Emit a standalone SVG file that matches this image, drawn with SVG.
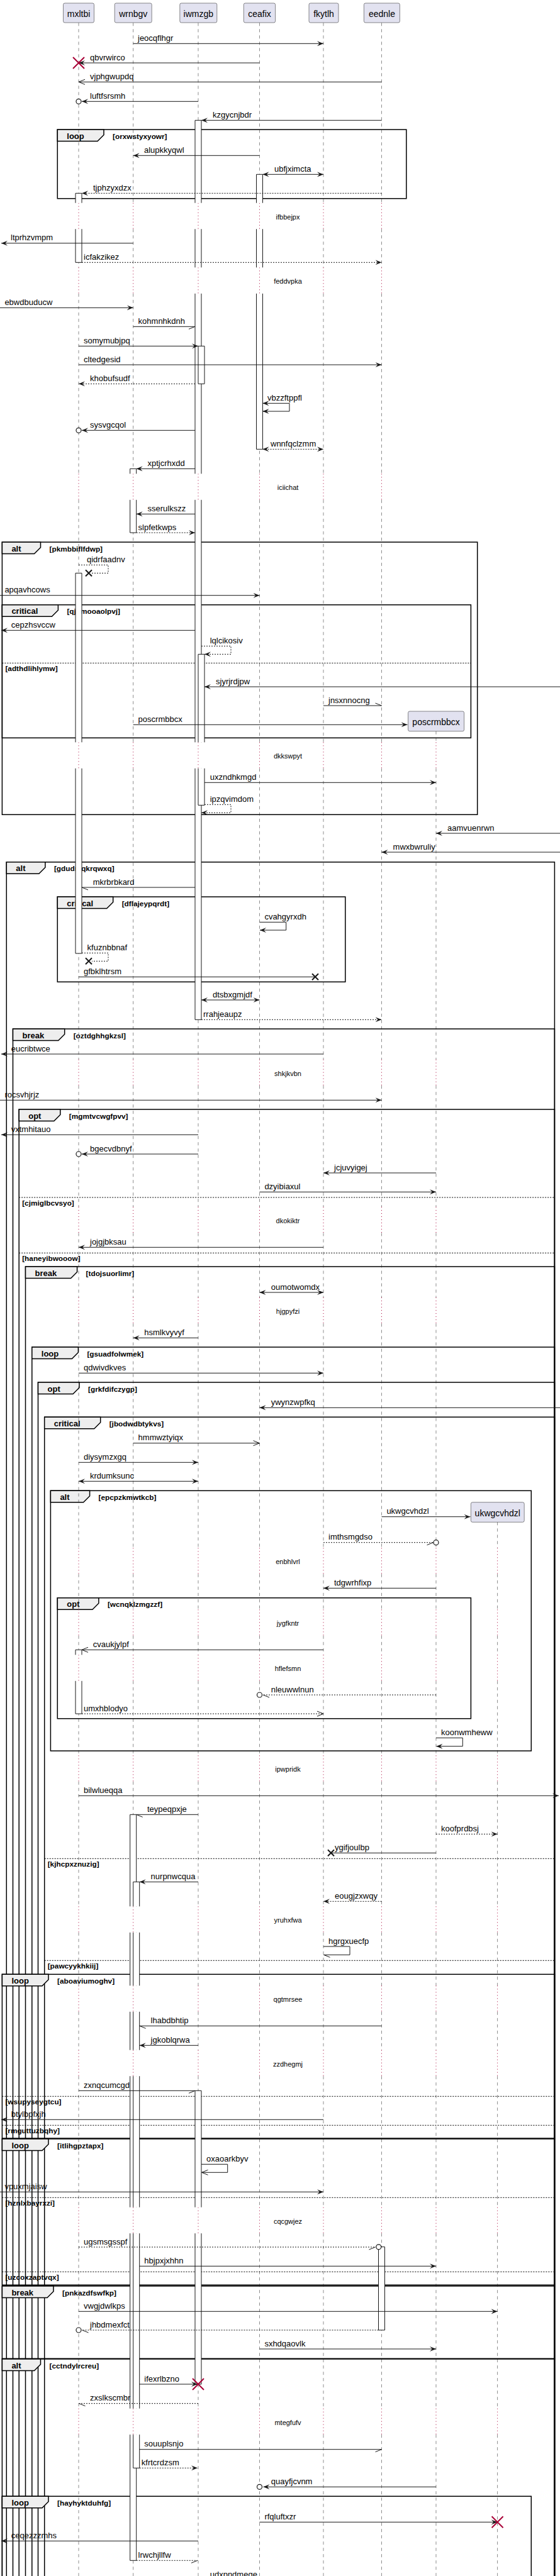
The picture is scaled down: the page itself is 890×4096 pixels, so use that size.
<svg xmlns="http://www.w3.org/2000/svg" width="890" height="4096" viewBox="0 0 890 4096">
<style>
text{font-family:"Liberation Sans",Arial,sans-serif;fill:#000}
.t{font-size:13px}
.pt{font-size:14px}
.dt{font-size:11px}
.fl{font-size:13px;font-weight:bold}
.g{font-size:11.8px;font-weight:bold}
.ll{fill:none;stroke:#181818;stroke-width:0.5;stroke-dasharray:5,5}
.lld{fill:none;stroke:#A80036;stroke-width:1;stroke-dasharray:1,4}
.act{fill:#fff;stroke:none}
.actl{fill:none;stroke:#181818;stroke-width:1}
.m{fill:none;stroke:#181818;stroke-width:1}
.md{fill:none;stroke:#181818;stroke-width:1;stroke-dasharray:2,2}
.fr{fill:none;stroke:#000;stroke-width:1.5}
.tab{fill:#EEEEEE;stroke:#000;stroke-width:1.5}
.el{fill:none;stroke:#000;stroke-width:1;stroke-dasharray:2,2}
.pbox{fill:#E2E2F0;stroke:#181818;stroke-width:0.5}
.cir{fill:#fff;stroke:#181818;stroke-width:1.2}
.xl{fill:none;stroke:#181818;stroke-width:2}
.xd{fill:none;stroke:#A80036;stroke-width:2}
</style>
<defs>
<marker id="af" viewBox="0 0 10 10" refX="10" refY="5" markerWidth="10" markerHeight="10" markerUnits="userSpaceOnUse" orient="auto-start-reverse"><path d="M0,1L10,5L0,9L4,5Z" fill="#181818"/></marker>
<marker id="ao" viewBox="-1 -1 12 12" refX="10" refY="5" markerWidth="12" markerHeight="12" markerUnits="userSpaceOnUse" orient="auto" overflow="visible"><path d="M0,1L10,5L0,9" fill="none" stroke="#181818" stroke-width="1"/></marker>
<marker id="hl" viewBox="-1 -1 12 12" refX="10" refY="5" markerWidth="12" markerHeight="12" markerUnits="userSpaceOnUse" orient="auto" overflow="visible"><path d="M10,5L0,9" fill="none" stroke="#181818" stroke-width="1"/></marker>
<marker id="hu" viewBox="-1 -1 12 12" refX="10" refY="5" markerWidth="12" markerHeight="12" markerUnits="userSpaceOnUse" orient="auto" overflow="visible"><path d="M10,5L0,1" fill="none" stroke="#181818" stroke-width="1"/></marker>
<path id="lldash" d="M0,36.3V322.7M0,364.2V425.3M0,466.8V753.3M0,794.8V1180.3M0,1221.8V1684.7M0,1726.2V1919M0,1960.5V2063M0,2104.5V2461.3M0,2502.8V2559.3M0,2600.8V2631.3M0,2672.8V2791.3M0,2832.8V3031.3M0,3072.8V3157.3M0,3198.8V3259.7M0,3301.2V3509.7M0,3551.2V3829.7M0,3871.2V4096"/>
<path id="lldot" d="M0,322.7V364.2M0,425.3V466.8M0,753.3V794.8M0,1180.3V1221.8M0,1684.7V1726.2M0,1919V1960.5M0,2063V2104.5M0,2461.3V2502.8M0,2559.3V2600.8M0,2631.3V2672.8M0,2791.3V2832.8M0,3031.3V3072.8M0,3157.3V3198.8M0,3259.7V3301.2M0,3509.7V3551.2M0,3829.7V3871.2"/>
</defs>
<rect x="0" y="0" width="890" height="4096" fill="#fff"/>

<g id="frames">
<rect class="fr" x="91.3" y="206" width="554.5" height="109.7"/>
<polygon class="tab" points="91.3,206 165,206 165,214.5 155,224.5 91.3,224.5"/>
<text class="fl" x="106.3" y="220.5">loop</text><text class="g" x="179" y="220.7">[orxwstyxyowr]</text>

<rect class="fr" x="3.4" y="862" width="755.3" height="433.3"/>
<polygon class="tab" points="3.4,862 64.5,862 64.5,870.5 54.5,880.5 3.4,880.5"/>
<text class="fl" x="18.4" y="876.5">alt</text><text class="g" x="78.5" y="876.7">[pkmbbiflfdwp]</text>

<rect class="fr" x="3.4" y="961.7" width="745" height="211.6"/>
<polygon class="tab" points="3.4,961.7 92.4,961.7 92.4,970.2 82.4,980.2 3.4,980.2"/>
<text class="fl" x="18.4" y="976.2">critical</text><text class="g" x="106.4" y="976.4">[qjumooaolpvj]</text>
<path class="el" d="M3.4,1054.3H748.4"/><text class="g" x="8.4" y="1066.8">[adthdlihlymw]</text>

<path class="fr" d="M10.3,4100V1370.7H881.4V4100"/>
<polygon class="tab" points="10.3,1370.7 71.9,1370.7 71.9,1379.2 61.9,1389.2 10.3,1389.2"/>
<text class="fl" x="25.3" y="1385.2">alt</text><text class="g" x="85.9" y="1385.4">[gdudmqkrqwxq]</text>

<rect class="fr" x="91.3" y="1426" width="457.5" height="135.3"/>
<polygon class="tab" points="91.3,1426 179.7,1426 179.7,1434.5 169.7,1444.5 91.3,1444.5"/>
<text class="fl" x="106.3" y="1440.5">critical</text><text class="g" x="193.7" y="1440.7">[dflajeypqrdt]</text>

<path class="fr" d="M20.5,4100V1636H881.4V4100"/>
<polygon class="tab" points="20.5,1636 102.7,1636 102.7,1644.5 92.7,1654.5 20.5,1654.5"/>
<text class="fl" x="35.5" y="1650.5">break</text><text class="g" x="116.7" y="1650.7">[oztdghhgkzsl]</text>

<path class="fr" d="M30.2,4100V1764H881.4V4100"/>
<polygon class="tab" points="30.2,1764 95.8,1764 95.8,1772.5 85.8,1782.5 30.2,1782.5"/>
<text class="fl" x="45.2" y="1778.5">opt</text><text class="g" x="109.8" y="1778.7">[mgmtvcwgfpvv]</text>
<path class="el" d="M30.2,1904H881.4"/><text class="g" x="35.2" y="1916.5">[cjmiglbcvsyo]</text>
<path class="el" d="M30.2,1992.3H881.4"/><text class="g" x="35.2" y="2004.8">[haneyibwooow]</text>

<path class="fr" d="M40.5,4100V2014H881.4V4100"/>
<polygon class="tab" points="40.5,2014 122.6,2014 122.6,2022.5 112.6,2032.5 40.5,2032.5"/>
<text class="fl" x="55.5" y="2028.5">break</text><text class="g" x="136.6" y="2028.7">[tdojsuorlimr]</text>

<path class="fr" d="M50.8,4100V2142H881.4V4100"/>
<polygon class="tab" points="50.8,2142 124.4,2142 124.4,2150.5 114.4,2160.5 50.8,2160.5"/>
<text class="fl" x="65.8" y="2156.5">loop</text><text class="g" x="138.4" y="2156.7">[gsuadfolwmek]</text>

<path class="fr" d="M60.5,4100V2198H881.4V4100"/>
<polygon class="tab" points="60.5,2198 126,2198 126,2206.5 116,2216.5 60.5,2216.5"/>
<text class="fl" x="75.5" y="2212.5">opt</text><text class="g" x="140" y="2212.7">[grkfdifczygp]</text>

<path class="fr" d="M70.7,4100V2253.3H881.4V4100"/>
<polygon class="tab" points="70.7,2253.3 159.7,2253.3 159.7,2261.8 149.7,2271.8 70.7,2271.8"/>
<text class="fl" x="85.7" y="2267.8">critical</text><text class="g" x="173.7" y="2268">[jbodwdbtykvs]</text>
<path class="el" d="M70.7,2955.3H881.4"/><text class="g" x="75.7" y="2967.8">[kjhcpxznuzig]</text>
<path class="el" d="M70.7,3117.3H881.4"/><text class="g" x="75.7" y="3129.8">[pawcyykhkiij]</text>

<rect class="fr" x="80.4" y="2370.3" width="763.9" height="413.7"/>
<polygon class="tab" points="80.4,2370.3 142.6,2370.3 142.6,2378.8 132.6,2388.8 80.4,2388.8"/>
<text class="fl" x="95.4" y="2384.8">alt</text><text class="g" x="156.6" y="2385">[epcpzkmwtkcb]</text>

<rect class="fr" x="91.3" y="2540.7" width="657.1" height="192"/>
<polygon class="tab" points="91.3,2540.7 156.9,2540.7 156.9,2549.2 146.9,2559.2 91.3,2559.2"/>
<text class="fl" x="106.3" y="2555.2">opt</text><text class="g" x="170.9" y="2555.4">[wcnqklzmgzzf]</text>

<rect class="fr" x="3.4" y="3139.3" width="878" height="260.7"/>
<polygon class="tab" points="3.4,3139.3 77,3139.3 77,3147.8 67,3157.8 3.4,3157.8"/>
<text class="fl" x="18.4" y="3153.8">loop</text><text class="g" x="91" y="3154">[aboaviumoghv]</text>
<path class="el" d="M3.4,3333.3H881.4"/><text class="g" x="8.4" y="3345.8">[wsupyseygtcu]</text>
<path class="el" d="M3.4,3379.3H881.4"/><text class="g" x="8.4" y="3391.8">[rmguttuzbqhy]</text>

<rect class="fr" x="3.4" y="3401" width="878" height="232.3"/>
<polygon class="tab" points="3.4,3401 77,3401 77,3409.5 67,3419.5 3.4,3419.5"/>
<text class="fl" x="18.4" y="3415.5">loop</text><text class="g" x="91" y="3415.7">[itlihgpztapx]</text>
<path class="el" d="M3.4,3494.3H881.4"/><text class="g" x="8.4" y="3506.8">[hznlxbayrxzi]</text>
<path class="el" d="M3.4,3612.3H881.4"/><text class="g" x="8.4" y="3624.8">[uzcoxzaptvqx]</text>

<rect class="fr" x="3.4" y="3635" width="878" height="115.3"/>
<polygon class="tab" points="3.4,3635 85,3635 85,3643.5 75,3653.5 3.4,3653.5"/>
<text class="fl" x="18.4" y="3649.5">break</text><text class="g" x="99" y="3649.7">[pnkazdfswfkp]</text>

<path class="fr" d="M3.4,4100V3751H881.4V4100"/>
<polygon class="tab" points="3.4,3751 64.5,3751 64.5,3759.5 54.5,3769.5 3.4,3769.5"/>
<text class="fl" x="18.4" y="3765.5">alt</text><text class="g" x="78.5" y="3765.7">[cctndylrcreu]</text>

<path class="fr" d="M3.4,4100V3969.3H844.3V4100"/>
<polygon class="tab" points="3.4,3969.3 77,3969.3 77,3977.8 67,3987.8 3.4,3987.8"/>
<text class="fl" x="18.4" y="3983.8">loop</text><text class="g" x="91" y="3984">[hayhyktduhfg]</text>
</g>

<g id="lifelines">
<use href="#lldash" class="ll" x="125"/>
<use href="#lldash" class="ll" x="211.7"/>
<use href="#lldash" class="ll" x="315"/>
<use href="#lldash" class="ll" x="412.5"/>
<use href="#lldash" class="ll" x="514"/>
<use href="#lldash" class="ll" x="606.5"/>
<use href="#lldot" class="lld" x="125"/>
<use href="#lldot" class="lld" x="211.7"/>
<use href="#lldot" class="lld" x="315"/>
<use href="#lldot" class="lld" x="412.5"/>
<use href="#lldot" class="lld" x="514"/>
<use href="#lldot" class="lld" x="606.5"/>
<path class="ll" d="M693,1162.7V1180.3M693,1221.8V1684.7M693,1726.2V1919M693,1960.5V2063M693,2104.5V2461.3M693,2502.8V2559.3M693,2600.8V2631.3M693,2672.8V2791.3M693,2832.8V3031.3M693,3072.8V3157.3M693,3198.8V3259.7M693,3301.2V3509.7M693,3551.2V3829.7M693,3871.2V4096"/>
<path class="lld" d="M693,1180.3V1221.8M693,1684.7V1726.2M693,1919V1960.5M693,2063V2104.5M693,2461.3V2502.8M693,2559.3V2600.8M693,2631.3V2672.8M693,2791.3V2832.8M693,3031.3V3072.8M693,3157.3V3198.8M693,3259.7V3301.2M693,3509.7V3551.2M693,3829.7V3871.2"/>
<path class="ll" d="M790.6,2420.3V2461.3M790.6,2502.8V2559.3M790.6,2600.8V2631.3M790.6,2672.8V2791.3M790.6,2832.8V3031.3M790.6,3072.8V3157.3M790.6,3198.8V3259.7M790.6,3301.2V3509.7M790.6,3551.2V3829.7M790.6,3871.2V4096"/>
<path class="lld" d="M790.6,2461.3V2502.8M790.6,2559.3V2600.8M790.6,2631.3V2672.8M790.6,2791.3V2832.8M790.6,3031.3V3072.8M790.6,3157.3V3198.8M790.6,3259.7V3301.2M790.6,3509.7V3551.2M790.6,3829.7V3871.2"/>
</g>

<g id="delays">
<text class="dt" x="457.5" y="348.7" text-anchor="middle">ifbbejpx</text>
<text class="dt" x="457.5" y="451.3" text-anchor="middle">feddvpka</text>
<text class="dt" x="457.5" y="779.3" text-anchor="middle">iciichat</text>
<text class="dt" x="457.5" y="1206.3" text-anchor="middle">dkkswpyt</text>
<text class="dt" x="457.5" y="1710.7" text-anchor="middle">shkjkvbn</text>
<text class="dt" x="457.5" y="1945" text-anchor="middle">dkokiktr</text>
<text class="dt" x="457.5" y="2089" text-anchor="middle">hjgpyfzi</text>
<text class="dt" x="457.5" y="2487.3" text-anchor="middle">enbhlvrl</text>
<text class="dt" x="457.5" y="2585.3" text-anchor="middle">jygfkntr</text>
<text class="dt" x="457.5" y="2657.3" text-anchor="middle">hflefsmn</text>
<text class="dt" x="457.5" y="2817.3" text-anchor="middle">ipwpridk</text>
<text class="dt" x="457.5" y="3057.3" text-anchor="middle">yruhxfwa</text>
<text class="dt" x="457.5" y="3183.3" text-anchor="middle">qgtmrsee</text>
<text class="dt" x="457.5" y="3285.7" text-anchor="middle">zzdhegmj</text>
<text class="dt" x="457.5" y="3535.7" text-anchor="middle">cqcgwjez</text>
<text class="dt" x="457.5" y="3855.7" text-anchor="middle">mtegfufv</text>
</g>

<g id="activations">
<rect class="act" x="120" y="307.3" width="10" height="15.4"/><rect class="act" x="120" y="364.2" width="10" height="53.1"/>
<path class="actl" d="M120,322.7V307.3H130V322.7M120,364.2V417.3H130V364.2"/>
<rect class="act" x="120" y="911.3" width="10" height="269"/><rect class="act" x="120" y="1221.8" width="10" height="294.2"/>
<path class="actl" d="M120,1180.3V911.3H130V1180.3M120,1221.8V1516H130V1221.8"/>
<rect class="act" x="120" y="2623.3" width="10" height="8"/><rect class="act" x="120" y="2672.8" width="10" height="52.2"/>
<path class="actl" d="M120,2631.3V2623.3H130V2631.3M120,2672.8V2725H130V2672.8"/>
<rect class="act" x="206.7" y="745.3" width="10" height="8"/><rect class="act" x="206.7" y="794.8" width="10" height="52.2"/>
<path class="actl" d="M206.7,753.3V745.3H216.7V753.3M206.7,794.8V847H216.7V794.8"/>
<rect class="act" x="206.7" y="2885.3" width="10" height="146"/><rect class="act" x="206.7" y="3072.8" width="10" height="84.5"/><rect class="act" x="206.7" y="3198.8" width="10" height="60.9"/><rect class="act" x="206.7" y="3301.2" width="10" height="208.5"/><rect class="act" x="206.7" y="3551.2" width="10" height="278.5"/><rect class="act" x="206.7" y="3871.2" width="10" height="200.1"/>
<path class="actl" d="M206.7,3031.3V2885.3H216.7V3031.3M206.7,3072.8V3157.3M216.7,3072.8V3157.3M206.7,3198.8V3259.7M216.7,3198.8V3259.7M206.7,3301.2V3509.7M216.7,3301.2V3509.7M206.7,3551.2V3829.7M216.7,3551.2V3829.7M206.7,3871.2V4071.3H216.7V3871.2"/>
<rect class="act" x="211.7" y="2992.3" width="10" height="39"/><rect class="act" x="211.7" y="3072.8" width="10" height="84.5"/><rect class="act" x="211.7" y="3198.8" width="10" height="60.9"/><rect class="act" x="211.7" y="3301.2" width="10" height="208.5"/><rect class="act" x="211.7" y="3551.2" width="10" height="278.5"/><rect class="act" x="211.7" y="3871.2" width="10" height="53.1"/>
<path class="actl" d="M211.7,3031.3V2992.3H221.7V3031.3M211.7,3072.8V3157.3M221.7,3072.8V3157.3M211.7,3198.8V3259.7M221.7,3198.8V3259.7M211.7,3301.2V3509.7M221.7,3301.2V3509.7M211.7,3551.2V3829.7M221.7,3551.2V3829.7M211.7,3871.2V3924.3H221.7V3871.2"/>
<rect class="act" x="310" y="191.3" width="10" height="131.4"/><rect class="act" x="310" y="364.2" width="10" height="61.1"/><rect class="act" x="310" y="466.8" width="10" height="286.5"/><rect class="act" x="310" y="794.8" width="10" height="385.5"/><rect class="act" x="310" y="1221.8" width="10" height="399.5"/>
<path class="actl" d="M310,322.7V191.3H320V322.7M310,364.2V425.3M320,364.2V425.3M310,466.8V753.3M320,466.8V753.3M310,794.8V1180.3M320,794.8V1180.3M310,1221.8V1621.3H320V1221.8"/>
<rect class="act" x="315" y="550.3" width="10" height="60"/>
<path class="actl" d="M315,550.3H325V610.3H315Z"/>
<rect class="act" x="315" y="1040.3" width="10" height="140"/><rect class="act" x="315" y="1221.8" width="10" height="58.5"/>
<path class="actl" d="M315,1180.3V1040.3H325V1180.3M315,1221.8V1280.3H325V1221.8"/>
<rect class="act" x="310" y="3324.3" width="10" height="185.4"/><rect class="act" x="310" y="3551.2" width="10" height="239.8"/>
<path class="actl" d="M310,3509.7V3324.3H320V3509.7M310,3551.2V3791H320V3551.2"/>
<rect class="act" x="407.5" y="277.3" width="10" height="45.4"/><rect class="act" x="407.5" y="364.2" width="10" height="61.1"/><rect class="act" x="407.5" y="466.8" width="10" height="247.5"/>
<path class="actl" d="M407.5,322.7V277.3H417.5V322.7M407.5,364.2V425.3M417.5,364.2V425.3M407.5,466.8V714.3H417.5V466.8"/>
<rect class="act" x="601.5" y="3572.7" width="10" height="132.3"/>
<path class="actl" d="M601.5,3572.7H611.5V3705H601.5Z"/>
</g>

<g id="connectors">
<path class="m" d="M211.7,69.3H514" marker-end="url(#af)"/><text class="t" x="219" y="64.8">jeocqflhgr</text>
<path class="m" d="M412.5,100H125" marker-end="url(#af)"/><path class="xd" d="M116,91L134,109M134,91L116,109"/><text class="t" x="143" y="95.5">qbvrwirco</text>
<path class="m" d="M606.5,130.3H125" marker-end="url(#ao)"/><text class="t" x="143" y="125.8">vjphgwupdq</text>
<path class="m" d="M315,161.3H130" marker-end="url(#af)"/><circle class="cir" cx="125" cy="161.3" r="4"/><text class="t" x="143" y="156.8">luftfsrsmh</text>
<path class="m" d="M606.5,191.3H320" marker-end="url(#af)"/><text class="t" x="338" y="186.8">kzgycnjbdr</text>
<path class="m" d="M412.5,247.3H211.7" marker-end="url(#af)"/><text class="t" x="229" y="242.8">alupkkyqwl</text>
<path class="m" d="M417.5,277.3H514" marker-start="url(#af)" marker-end="url(#af)"/><text class="t" x="436" y="272.8">ubfjximcta</text>
<path class="md" d="M606.5,307.3H130" marker-end="url(#af)"/><text class="t" x="148" y="302.8">tjphzyxdzx</text>
<path class="m" d="M211.7,386.7H2" marker-end="url(#af)"/><text class="t" x="17" y="382.2">ltprhzvmpm</text>
<path class="md" d="M130,417.3H606.5" marker-end="url(#af)"/><text class="t" x="133" y="412.8">icfakzikez</text>
<path class="m" d="M0,489.3H211.7" marker-end="url(#af)"/><text class="t" x="7.4" y="484.8">ebwdbuducw</text>
<path class="m" d="M211.7,519.3H310" marker-end="url(#hl)"/><text class="t" x="219.6" y="514.8">kohmnhkdnh</text>
<path class="m" d="M125,550.3H315" marker-end="url(#af)"/><text class="t" x="133" y="545.8">somymubjpq</text>
<path class="m" d="M125,580H606.5" marker-end="url(#af)"/><text class="t" x="133" y="575.5">cltedgesid</text>
<path class="md" d="M310,610.3H125" marker-end="url(#af)"/><text class="t" x="143" y="605.8">khobufsudf</text>
<path class="m" d="M417.5,641.3H460V654H417.5" marker-start="url(#af)" marker-end="url(#af)"/><text class="t" x="425" y="636.8">vbzzftppfl</text>
<path class="m" d="M310,684.3H130" marker-end="url(#af)"/><circle class="cir" cx="125" cy="684.3" r="4"/><text class="t" x="143" y="679.8">sysvgcqol</text>
<path class="md" d="M417.5,714.3H514" marker-start="url(#af)" marker-end="url(#af)"/><text class="t" x="430" y="709.8">wnnfqclzmm</text>
<path class="m" d="M310,745.3H216.7" marker-end="url(#af)"/><text class="t" x="234.5" y="740.8">xptjcrhxdd</text>
<path class="m" d="M310,817.3H216.7" marker-end="url(#af)"/><text class="t" x="234.5" y="812.8">sserulkszz</text>
<path class="md" d="M216.7,847H310" marker-end="url(#af)"/><text class="t" x="219.6" y="842.5">slpfetkwps</text>
<path class="md" d="M125,898.3H172V911.3H146"/><path class="xl" d="M136,906.3L146,916.3M146,906.3L136,916.3"/><text class="t" x="138" y="893.8">qidrfaadnv</text>
<path class="m" d="M0,946.7H412.5" marker-end="url(#af)"/><text class="t" x="7.4" y="942.2">apqavhcows</text>
<path class="m" d="M310,1002.3H2" marker-end="url(#af)"/><text class="t" x="17.7" y="997.8">cepzhsvccw</text>
<path class="md" d="M320,1027.3H367V1040.3H325" marker-end="url(#af)"/><text class="t" x="333.7" y="1022.8">lqlcikosiv</text>
<path class="m" d="M890,1092H325" marker-end="url(#af)"/><text class="t" x="343" y="1087.5">sjyrjrdjpw</text>
<path class="m" d="M514,1122H606.5" marker-end="url(#hu)"/><text class="t" x="522" y="1117.5">jnsxnnocng</text>
<path class="m" d="M211.7,1152.3H647.5" marker-end="url(#af)"/><text class="t" x="219.6" y="1147.8">poscrmbbcx</text>
<path class="m" d="M325,1244.3H693" marker-end="url(#af)"/><text class="t" x="333.7" y="1239.8">uxzndhkmgd</text>
<path class="md" d="M325,1279.3H367V1292.3H320" marker-end="url(#af)"/><text class="t" x="333.7" y="1274.8">ipzqvimdom</text>
<path class="m" d="M890,1325H693" marker-end="url(#af)"/><text class="t" x="711" y="1320.5">aamvuenrwn</text>
<path class="m" d="M890,1355H606.5" marker-end="url(#af)"/><text class="t" x="624.6" y="1350.5">mwxbwruliy</text>
<path class="m" d="M310,1411H130" marker-end="url(#hu)"/><text class="t" x="147.7" y="1406.5">mkrbrbkard</text>
<path class="m" d="M412.5,1466.3H454.7V1479H413" marker-end="url(#af)"/><text class="t" x="420.4" y="1461.8">cvahgyrxdh</text>
<path class="md" d="M130,1515.3H172V1528.3H146"/><path class="xl" d="M136,1523.3L146,1533.3M146,1523.3L136,1533.3"/><text class="t" x="138.6" y="1510.8">kfuznbbnaf</text>
<path class="m" d="M125,1553.3H501"/><path class="xl" d="M496,1548.3L506,1558.3M506,1548.3L496,1558.3"/><text class="t" x="133" y="1548.8">gfbklhtrsm</text>
<path class="m" d="M320,1590H412.5" marker-start="url(#af)" marker-end="url(#af)"/><text class="t" x="338" y="1585.5">dtsbxgmjdf</text>
<path class="md" d="M320,1621.3H606.5" marker-end="url(#af)"/><text class="t" x="323" y="1616.8">rrahjeaupz</text>
<path class="m" d="M514,1676H2" marker-end="url(#af)"/><text class="t" x="17.7" y="1671.5">eucribtwce</text>
<path class="m" d="M0,1749.3H606.5" marker-end="url(#af)"/><text class="t" x="7.4" y="1744.8">rocsvhjrjz</text>
<path class="m" d="M315,1804.3H2" marker-end="url(#af)"/><text class="t" x="17.7" y="1799.8">vxtmhitauo</text>
<path class="m" d="M315,1835H130" marker-end="url(#af)"/><circle class="cir" cx="125" cy="1835" r="4"/><text class="t" x="143" y="1830.5">bgecvdbnyf</text>
<path class="m" d="M693,1865H514" marker-end="url(#af)"/><text class="t" x="531" y="1860.5">jcjuvyigej</text>
<path class="m" d="M412.5,1895.3H693" marker-end="url(#af)"/><text class="t" x="420.4" y="1890.8">dzyibiaxul</text>
<path class="m" d="M514,1983.3H125" marker-end="url(#af)"/><text class="t" x="143" y="1978.8">jojgjbksau</text>
<path class="m" d="M412.5,2055H514" marker-start="url(#af)" marker-end="url(#af)"/><text class="t" x="430.7" y="2050.5">oumotwomdx</text>
<path class="m" d="M315,2127.3H211.7" marker-end="url(#af)"/><text class="t" x="229.3" y="2122.8">hsmlkvyvyf</text>
<path class="m" d="M125,2183.3H514" marker-end="url(#af)"/><text class="t" x="133" y="2178.8">qdwivdkves</text>
<path class="m" d="M890,2238.3H412.5" marker-end="url(#af)"/><text class="t" x="430.7" y="2233.8">ywynzwpfkq</text>
<path class="m" d="M211.7,2294.7H412.5" marker-end="url(#ao)"/><text class="t" x="219.6" y="2290.2">hmmwztyiqx</text>
<path class="m" d="M125,2325.3H315" marker-end="url(#af)"/><text class="t" x="133" y="2320.8">diysymzxgq</text>
<path class="m" d="M125,2355.3H315" marker-start="url(#af)" marker-end="url(#af)"/><text class="t" x="143" y="2350.8">krdumksunc</text>
<path class="m" d="M606.5,2411.7H747.5" marker-end="url(#af)"/><text class="t" x="614.4" y="2407.2">ukwgcvhdzl</text>
<path class="md" d="M514,2452.7H688.5" marker-end="url(#hl)"/><circle class="cir" cx="693" cy="2452.7" r="4"/><text class="t" x="522" y="2448.2">imthsmgdso</text>
<path class="m" d="M693,2525.3H514" marker-end="url(#af)"/><text class="t" x="531" y="2520.8">tdgwrhfixp</text>
<path class="m" d="M514,2623.3H130" marker-end="url(#ao)"/><text class="t" x="147.7" y="2618.8">cvaukjylpf</text>
<path class="md" d="M693,2695H418" marker-end="url(#hu)"/><circle class="cir" cx="412.5" cy="2695" r="4"/><text class="t" x="430.7" y="2690.5">nleuwwlnun</text>
<path class="md" d="M130,2725H514" marker-end="url(#ao)"/><text class="t" x="133" y="2720.5">umxhblodyo</text>
<path class="m" d="M693,2763.3H735.3V2776.7H693.5" marker-end="url(#af)"/><text class="t" x="701" y="2758.8">koonwmheww</text>
<path class="m" d="M125,2855.3H888" marker-end="url(#af)"/><text class="t" x="133" y="2850.8">bilwlueqqa</text>
<path class="m" d="M315,2885.3H216.7" marker-end="url(#hu)"/><text class="t" x="233.9" y="2880.8">teypeqpxje</text>
<path class="md" d="M693,2916.3H790.6" marker-end="url(#af)"/><text class="t" x="701" y="2911.8">koofprdbsj</text>
<path class="m" d="M693,2946.3H526"/><path class="xl" d="M521,2941.3L531,2951.3M531,2941.3L521,2951.3"/><text class="t" x="532" y="2941.8">ygifjoulbp</text>
<path class="m" d="M315,2992.3H221.7" marker-end="url(#af)"/><text class="t" x="239.6" y="2987.8">nurpnwcqua</text>
<path class="md" d="M606.5,3023.3H514" marker-end="url(#af)"/><text class="t" x="532" y="3018.8">eougjzxwqy</text>
<path class="m" d="M514,3095H556V3108.3H514.5" marker-end="url(#hu)"/><text class="t" x="522" y="3090.5">hgrgxuecfp</text>
<path class="m" d="M606.5,3221.3H221.7" marker-end="url(#hu)"/><text class="t" x="239.6" y="3216.8">lhabdbhtip</text>
<path class="m" d="M315,3252.3H221.7" marker-end="url(#af)"/><text class="t" x="239.6" y="3247.8">jgkoblqrwa</text>
<path class="m" d="M125,3324.3H310" marker-end="url(#hl)"/><text class="t" x="133" y="3319.8">zxnqcumcgd</text>
<path class="m" d="M514,3370.3H2" marker-end="url(#af)"/><text class="t" x="17.7" y="3365.8">btylbpfxjh</text>
<path class="m" d="M320,3441.3H361.7V3454.3H320.5" marker-end="url(#ao)"/><text class="t" x="328" y="3436.8">oxaoarkbyv</text>
<path class="m" d="M0,3485.3H514" marker-end="url(#af)"/><text class="t" x="7.4" y="3480.8">vpuxmjaisw</text>
<path class="md" d="M125,3573H596.5" marker-end="url(#hl)"/><circle class="cir" cx="601.8" cy="3572.8" r="4"/><text class="t" x="133" y="3568.5">ugsmsgsspf</text>
<path class="m" d="M221.7,3603.3H693" marker-end="url(#af)"/><text class="t" x="229.3" y="3598.8">hbjpxjxhhn</text>
<path class="m" d="M125,3675.3H790.6" marker-end="url(#af)"/><text class="t" x="133" y="3670.8">vwgjdwlkps</text>
<path class="md" d="M601.5,3705H130.5" marker-end="url(#hu)"/><circle class="cir" cx="125" cy="3705" r="4"/><text class="t" x="143" y="3700.5">jhbdmexfct</text>
<path class="m" d="M412.5,3735H693" marker-end="url(#af)"/><text class="t" x="420.4" y="3730.5">sxhdqaovlk</text>
<path class="m" d="M221.7,3791H314" marker-end="url(#af)"/><path class="xd" d="M306,3782L324,3800M324,3782L306,3800"/><text class="t" x="229.3" y="3786.5">ifexrlbzno</text>
<path class="md" d="M315,3821.7H125.5" marker-end="url(#hu)"/><text class="t" x="143" y="3817.2">zxslkscmbr</text>
<path class="m" d="M221.7,3894.7H606.5" marker-end="url(#hl)"/><text class="t" x="229.3" y="3890.2">souuplsnjo</text>
<path class="md" d="M221.7,3924.3H314" marker-end="url(#af)"/><text class="t" x="224.8" y="3919.8">kfrtcrdzsm</text>
<path class="m" d="M693,3954.3H418.5" marker-end="url(#af)"/><circle class="cir" cx="412.5" cy="3954.3" r="4"/><text class="t" x="430.7" y="3949.8">quayfjcvnm</text>
<path class="m" d="M412.5,4010.3H790.6" marker-end="url(#af)"/><path class="xd" d="M781.6,4001.3L799.6,4019.3M799.6,4001.3L781.6,4019.3"/><text class="t" x="420.4" y="4005.8">rfqluftxzr</text>
<path class="m" d="M315,4040.3H2" marker-end="url(#af)"/><text class="t" x="17.7" y="4035.8">ceqezzzmhs</text>
<path class="md" d="M216.7,4071.3H314" marker-end="url(#hl)"/><text class="t" x="219.6" y="4066.8">lrwchjllfw</text>
<text class="t" x="333.7" y="4098">udxpndmege</text>
</g>

<g id="mxltbi"><rect class="pbox" x="100.5" y="5" width="49" height="31" rx="2.5"/><text class="pt" x="125" y="27.3" text-anchor="middle">mxltbi</text></g>
<g id="wrnbgv"><rect class="pbox" x="182.2" y="5" width="59" height="31" rx="2.5"/><text class="pt" x="211.7" y="27.3" text-anchor="middle">wrnbgv</text></g>
<g id="iwmzgb"><rect class="pbox" x="285.8" y="5" width="59" height="31" rx="2.5"/><text class="pt" x="315.3" y="27.3" text-anchor="middle">iwmzgb</text></g>
<g id="ceafix"><rect class="pbox" x="387.3" y="5" width="50.3" height="31" rx="2.5"/><text class="pt" x="412.5" y="27.3" text-anchor="middle">ceafix</text></g>
<g id="fkytlh"><rect class="pbox" x="491" y="5" width="47" height="31" rx="2.5"/><text class="pt" x="514.5" y="27.3" text-anchor="middle">fkytlh</text></g>
<g id="eednle"><rect class="pbox" x="578.4" y="5" width="57" height="31" rx="2.5"/><text class="pt" x="606.9" y="27.3" text-anchor="middle">eednle</text></g>
<g id="poscrmbbcx"><rect class="pbox" x="648.6" y="1131" width="89" height="31.7" rx="2.5"/><text class="pt" x="693.1" y="1153.2" text-anchor="middle">poscrmbbcx</text></g>
<g id="ukwgcvhdzl"><rect class="pbox" x="748.4" y="2388.7" width="84.8" height="31.6" rx="2.5"/><text class="pt" x="790.8" y="2411" text-anchor="middle">ukwgcvhdzl</text></g>
</svg>
